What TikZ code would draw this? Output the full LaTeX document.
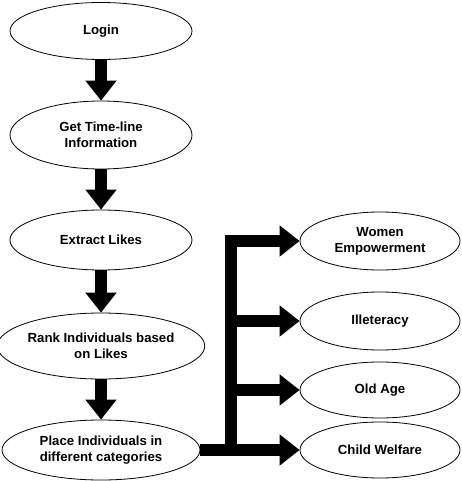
\documentclass[tikz,border=0pt]{standalone}
\usepackage{fontspec}
\setmainfont{Liberation Sans}
\usetikzlibrary{shapes.geometric,arrows.meta}

\begin{document}
\begin{tikzpicture}[
        x=1pt, y=-1pt,
        stepnode/.style={
            ellipse,
            draw=black,
            line width=0.8pt,
            inner sep=0pt,
            align=center,
            font=\fontsize{13.2}{16}\selectfont\bfseries
        },
        flowarrow/.style={
            -{Triangle[width=30pt,length=20pt]},
            line width=12pt,
            black
        }
    ]

    \useasboundingbox (0,0) rectangle (461,481);

    % ---------------------------------------------------------
    % Main steps
    % ---------------------------------------------------------
    \node[stepnode, minimum width=182pt, minimum height=57pt] (login)    at (101,31)  {Login};
    \node[stepnode, minimum width=182pt, minimum height=68pt] (timeline) at (101,135) {Get Time-line\\Information};
    \node[stepnode, minimum width=182pt, minimum height=60pt] (likes)    at (101,240) {Extract Likes};
    \node[stepnode, minimum width=198pt, minimum height=66pt] (rank)     at (101,346) {Rank Individuals based\\on Likes};
    \node[stepnode, minimum width=198pt, minimum height=60pt] (place)    at (101,450) {Place Individuals in\\different categories};

    % ---------------------------------------------------------
    % Categories
    % ---------------------------------------------------------
    \node[stepnode, minimum width=160pt, minimum height=58pt] (women)  at (380,241) {Women\\Empowerment};
    \node[stepnode, minimum width=160pt, minimum height=58pt] (illit)  at (380,321) {Illeteracy};
    \node[stepnode, minimum width=160pt, minimum height=56pt] (oldage) at (380,390) {Old Age};
    \node[stepnode, minimum width=160pt, minimum height=56pt] (child)  at (380,450) {Child Welfare};

    % ---------------------------------------------------------
    % Flow arrows
    % ---------------------------------------------------------
    \draw[flowarrow] (login) -- (timeline);
    \draw[flowarrow] (timeline) -- (likes);
    \draw[flowarrow] (likes) -- (rank);
    \draw[flowarrow] (rank) -- (place);

    % Split into categories
    \coordinate (split) at (231,450);
    \draw[flowarrow] (place) -- (child);
    \draw[flowarrow] (split) |- (women.west);
    \draw[flowarrow] (split |- illit.west) -- (illit.west);
    \draw[flowarrow] (split |- oldage.west) -- (oldage.west);

\end{tikzpicture}
\end{document}
